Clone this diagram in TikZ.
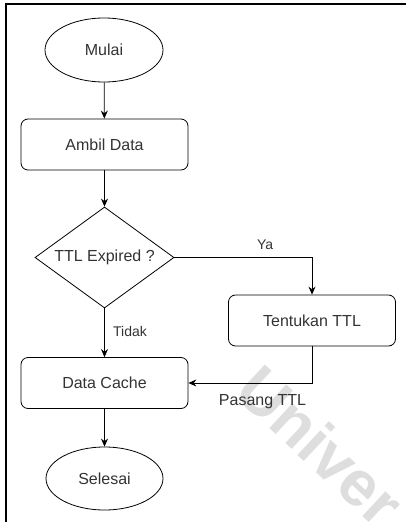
\documentclass[tikz,border=0pt]{standalone}
\usepackage{fontspec}
\setmainfont{Liberation Sans}
\usetikzlibrary{shapes.geometric,arrows.meta}

\tikzset{
  terminal/.style={draw,ellipse,minimum width=118pt,minimum height=64pt,inner sep=0pt},
  process/.style={draw,rounded corners=7pt,minimum width=167pt,minimum height=51pt,inner sep=0pt},
  decision/.style={draw,diamond,aspect=1.38,minimum width=139pt,minimum height=101pt,inner sep=0pt},
  arr/.style={-{Stealth[length=8pt,width=7pt]}},
  lbl/.style={font=\fontsize{14}{16}\selectfont,inner sep=0pt}
}

\begin{document}
\begin{tikzpicture}[x=1pt,y=-1pt,font=\fontsize{16}{18}\selectfont,text=black!80,line width=0.8pt]
  \useasboundingbox (0,0) rectangle (406,522);
  % watermark
  \begin{scope}
    \clip (0,0) rectangle (406,522);
    \node[anchor=base west,rotate=-43,inner sep=0pt,text=black!13,font=\bfseries\fontsize{64}{66}\selectfont] at (232,394) {Univer};
  \end{scope}
  % frame
  \draw[line width=1.4pt] (6,522) -- (6,4) -- (406,4);

  \node[terminal] (mulai) at (104,50) {Mulai};
  \node[process] (ambil) at (104.5,144.5) {Ambil Data};
  \node[decision] (ttl) at (104.5,257.5) {TTL Expired ?};
  \node[process] (tentukan) at (312,320.5) {Tentukan TTL};
  \node[process] (cache) at (104.5,383) {Data Cache};
  \node[terminal,minimum width=117pt,minimum height=63pt] (selesai) at (104.5,478.5) {Selesai};

  \draw[arr] (mulai) -- (ambil);
  \draw[arr] (ambil) -- (ttl);
  \draw[arr] (ttl.east) -| (tentukan.north) node[lbl,pos=0.33,yshift=13pt] {Ya};
  \draw[arr] (ttl.south) -- (cache.north) node[lbl,midway,xshift=25.5pt,yshift=1pt] {Tidak};
  \draw[arr] (tentukan.south) |- (cache.east) node[pos=0.7,yshift=-19pt,inner sep=0pt] {Pasang TTL};
  \draw[arr] (cache) -- (selesai);
\end{tikzpicture}
\end{document}
